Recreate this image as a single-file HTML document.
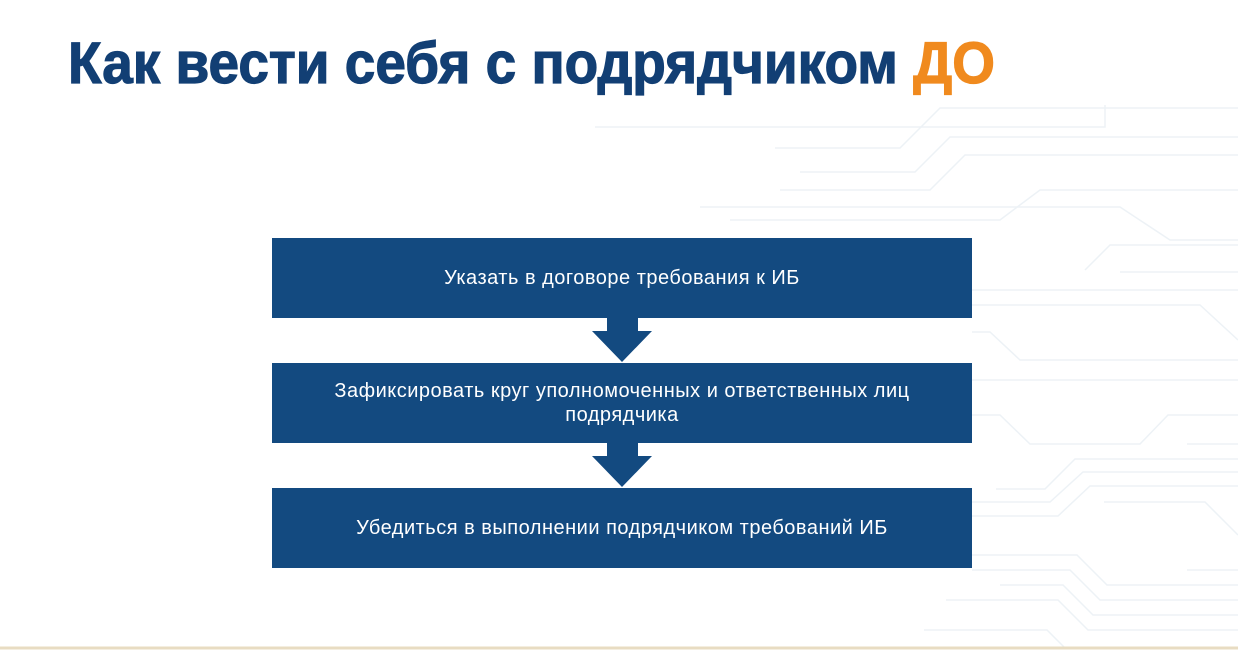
<!DOCTYPE html>
<html><head><meta charset="utf-8"><style>
body{margin:0;width:1238px;height:650px;background:#fff;overflow:hidden;position:relative;font-family:"Liberation Sans",sans-serif}
.box{position:absolute;left:272px;width:700px;height:80px;background:#134a80;color:#fff;display:flex;align-items:center;justify-content:center;text-align:center;font-size:20px;letter-spacing:0.5px;line-height:24px}
svg{position:absolute;left:0;top:0}
</style></head><body>
<svg width="1238" height="650">
<g stroke="#edf2f6" stroke-width="1.5" fill="none">
<path d="M595 127 H1105 V105"/>
<path d="M775 148 H900 L940 108 H1238"/>
<path d="M800 172 H915 L950 137 H1238"/>
<path d="M780 190 H930 L965 155 H1238"/>
<path d="M700 207 H1040 H1120 L1170 240 H1238"/>
<path d="M730 220 H1000 L1040 190 H1238"/>
<path d="M1085 270 L1110 245 H1238"/>
<path d="M1120 272 H1238"/>
<path d="M972 290 H1238"/>
<path d="M972 305 H1200 L1238 340"/>
<path d="M972 332 H990 L1020 360 H1238"/>
<path d="M972 380 H1238"/>
<path d="M972 415 H1000 L1030 444 H1140 L1168 415 H1238"/>
<path d="M1187 444 H1238"/>
<path d="M996 489 H1045 L1075 459 H1238"/>
<path d="M972 502 H1050 L1083 472 H1238"/>
<path d="M972 516 H1058 L1090 486 H1238"/>
<path d="M1104 502 H1205 L1238 535"/>
<path d="M972 555 H1077 L1107 585 H1238"/>
<path d="M972 570 H1070 L1100 600 H1238"/>
<path d="M1000 585 H1063 L1093 615 H1238"/>
<path d="M946 600 H1058 L1088 630 H1238"/>
<path d="M924 630 H1047 L1065 648"/>
<path d="M1187 570 H1238"/>
</g>
<line x1="0" y1="648" x2="1238" y2="648" stroke="#e8dcc2" stroke-width="3"/>
<text x="68" y="83" font-family="Liberation Sans, sans-serif" font-weight="bold" font-size="58" fill="#123f74" stroke="#123f74" stroke-width="1.2" textLength="927" lengthAdjust="spacingAndGlyphs">Как вести себя с подрядчиком <tspan fill="#f08a1e" stroke="#f08a1e">ДО</tspan></text>
<g fill="#134a80">
<polygon points="607,318 638,318 638,331 652,331 622,362 592,331 607,331"/>
<polygon points="607,443 638,443 638,456 652,456 622,487 592,456 607,456"/>
</g>
</svg>
<div class="box" style="top:238px">Указать в договоре требования к ИБ</div>
<div class="box" style="top:363px">Зафиксировать круг уполномоченных и ответственных лиц<br>подрядчика</div>
<div class="box" style="top:488px">Убедиться в выполнении подрядчиком требований ИБ</div>
</body></html>
